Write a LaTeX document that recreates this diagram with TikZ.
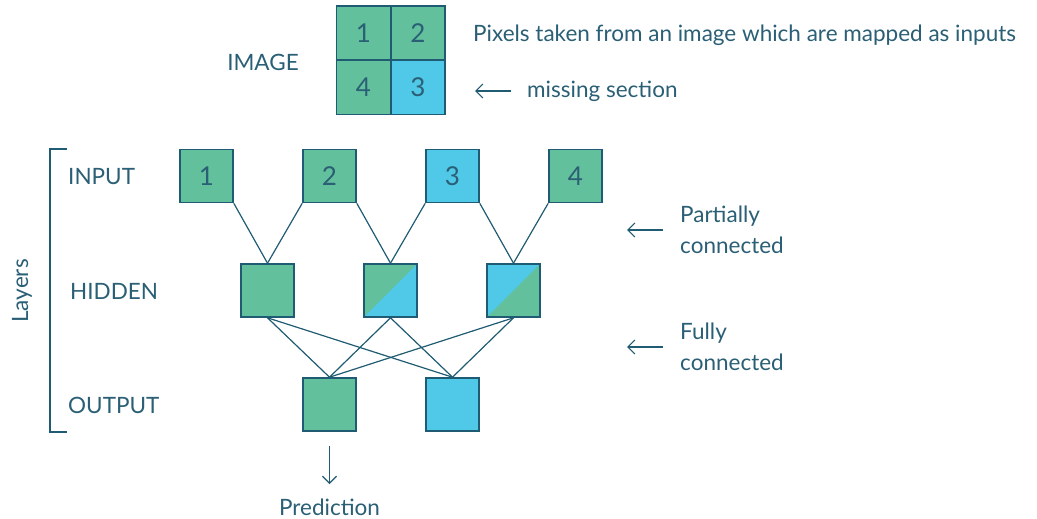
\documentclass[tikz,border=0pt]{standalone}
\usepackage{fontspec}
\setmainfont{Lato}
\usetikzlibrary{arrows.meta}
\definecolor{gr}{HTML}{62C09C}
\definecolor{bl}{HTML}{50C8E8}
\definecolor{ink}{HTML}{1F5C73}
\definecolor{txt}{HTML}{2A5F75}
\tikzset{
  sq/.style={draw=ink, line width=1.6pt, minimum size=53pt, inner sep=0pt, text=txt, font=\fontsize{26}{30}\selectfont},
  cell/.style={draw=ink, line width=1.6pt, minimum size=54pt, inner sep=0pt, text=txt, font=\fontsize{26}{30}\selectfont},
  lbl/.style={text=txt, font=\fontsize{22.5}{26}\selectfont, inner sep=0pt},
  conn/.style={draw=ink, line width=1.2pt},
  arr/.style={draw=ink, line width=1.2pt, -{Straight Barb[length=7pt,width=14pt]}},
  bsplit/.style={path picture={\fill[bl] (path picture bounding box.south west) -- (path picture bounding box.north east) -- (path picture bounding box.south east) -- cycle;}},
  gsplit/.style={path picture={\fill[gr] (path picture bounding box.south west) -- (path picture bounding box.north east) -- (path picture bounding box.south east) -- cycle;}}
}
\begin{document}
\begin{tikzpicture}[x=1pt,y=-1pt]
\useasboundingbox (0,0) rectangle (1037,519);
% image grid
\node[cell, fill=gr] (c1) at (363.5,33) {1};
\node[cell, fill=gr] (c2) at (418,33) {2};
\node[cell, fill=gr] (c4) at (363.5,87.5) {4};
\node[cell, fill=bl] (c3) at (418,87.5) {3};
\node[lbl] (img) at (263,62) {IMAGE};
\node[lbl, anchor=west] (pix) at (473,35) {Pixels taken from an image which are mapped as inputs};
\node[lbl, anchor=west] (miss) at (527,91) {missing section};
\coordinate (ma) at (511,91);
\coordinate (mb) at (475,91);
\draw[arr] (ma) -- (mb);
% input layer
\node[sq, fill=gr] (i1) at (206.5,176) {1};
\node[sq, fill=gr] (i2) at (329.5,176) {2};
\node[sq, fill=bl] (i3) at (452.5,176) {3};
\node[sq, fill=gr] (i4) at (575.5,176) {4};
% hidden layer
\node[sq, fill=gr] (h1) at (267.5,290.5) {};
\node[sq, fill=gr, bsplit] (h2) at (390.5,290.5) {};
\node[sq, fill=bl, gsplit] (h3) at (513.5,290.5) {};
% output layer
\node[sq, fill=gr] (o1) at (329.5,404.5) {};
\node[sq, fill=bl] (o2) at (452.5,404.5) {};
% partial connections
\draw[conn] (i1.south east) -- (h1.north);
\draw[conn] (i2.south west) -- (h1.north);
\draw[conn] (i2.south east) -- (h2.north);
\draw[conn] (i3.south west) -- (h2.north);
\draw[conn] (i3.south east) -- (h3.north);
\draw[conn] (i4.south west) -- (h3.north);
% full connections
\foreach \h in {h1,h2,h3}{
  \foreach \o in {o1,o2}{
    \draw[conn] (\h.south) -- (\o.north);
  }
}
% layer labels
\node[lbl, anchor=west] (linp) at (68,177) {INPUT};
\node[lbl, anchor=west] (lhid) at (70,291) {HIDDEN};
\node[lbl, anchor=west] (lout) at (68,405) {OUTPUT};
\coordinate (bt) at (67,149);
\coordinate (bb) at (67,432);
\draw[ink, line width=1.3pt] (bt) -- (50,149) -- (50,432) -- (bb);
\node[lbl, rotate=90] (layers) at (22,291) {Layers};
% side arrows
\coordinate (pa) at (663,230);
\coordinate (pb) at (627,230);
\draw[arr] (pa) -- (pb);
\node[lbl, anchor=west] (part) at (680,216) {Partially};
\node[lbl, anchor=west] (pcon) at (680,245) {connected};
\coordinate (fa) at (663,347);
\coordinate (fb) at (627,347);
\draw[arr] (fa) -- (fb);
\node[lbl, anchor=west] (full) at (680,333) {Fully};
\node[lbl, anchor=west] (fcon) at (680,362) {connected};
% prediction
\node[lbl] (pred) at (329.5,507) {Prediction};
\coordinate (pt) at (329.5,446);
\coordinate (pe) at (329.5,484);
\draw[arr] (pt) -- (pe);
\end{tikzpicture}
\end{document}
